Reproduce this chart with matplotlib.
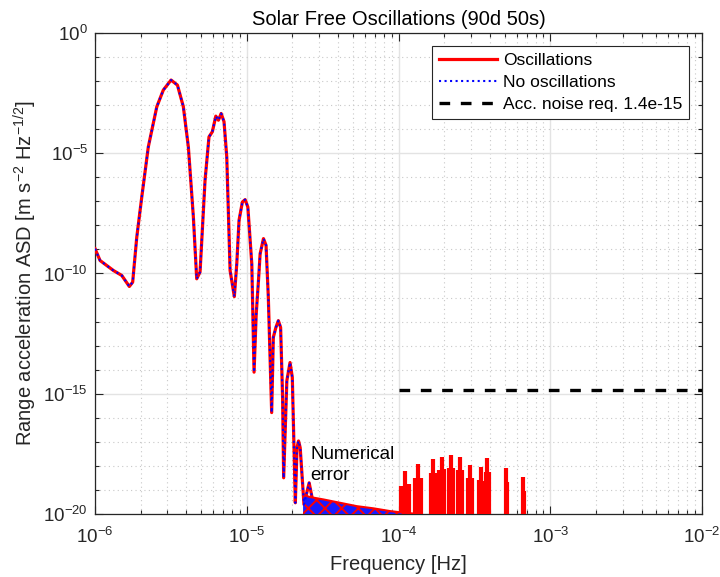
import numpy as np
import matplotlib
matplotlib.use('Agg')
import matplotlib.pyplot as plt
from matplotlib.ticker import FixedLocator, LogLocator, NullFormatter, LogFormatterSciNotation

plt.rcParams['font.family'] = ['Liberation Sans', 'DejaVu Sans']
plt.rcParams['mathtext.default'] = 'regular'
plt.rcParams['hatch.linewidth'] = 1.4

# main spectrum (log10 of frequency and of ASD)
curve_logf = [-6.000, -5.967, -5.879, -5.824, -5.774, -5.752, -5.725, -5.692, -5.649,
              -5.593, -5.550, -5.499, -5.457, -5.418, -5.385, -5.352, -5.330, -5.308,
              -5.275, -5.249, -5.227, -5.204, -5.187, -5.169, -5.150, -5.132, -5.110,
              -5.082, -5.066, -5.051, -5.029, -5.011, -4.993, -4.967, -4.952, -4.938,
              -4.923, -4.912, -4.890, -4.873, -4.858, -4.836, -4.825, -4.808, -4.792,
              -4.777, -4.764, -4.757, -4.736, -4.715, -4.700, -4.680, -4.669, -4.659,
              -4.648, -4.623, -4.589, -4.570]
curve_loga = [-8.97, -9.46, -9.875, -10.08, -10.54, -10.36, -8.49, -6.82, -4.74,
              -3.07, -2.375, -1.96, -2.17, -3.07, -4.74, -7.65, -10.22, -9.94,
              -6.125, -4.32, -4.11, -3.46, -3.63, -3.35, -3.69, -5.15, -9.875,
              -10.96, -9.6, -7.79, -7.03, -6.93, -7.24, -9.6, -14.1, -11.7,
              -10.3, -9.18, -8.55, -8.83, -10.99, -15.78, -12.65, -12.24, -11.96,
              -12.24, -15.15, -18.49, -14.46, -13.7, -14.32, -19.53, -17.24, -16.96,
              -17.24, -19.6, -18.7, -19.3]

# "numerical error" band, upper envelope
band_logf = [-4.629, -4.583, -4.495, -4.385, -4.275, -4.165, -4.055, -3.968, -3.858]
band_loga = [-19.2, -19.29, -19.39, -19.53, -19.67, -19.76, -19.875, -19.94, -20.0]

# oscillation peaks above the floor (red curve only)
spike_logf = [-3.985, -3.956, -3.945, -3.930, -3.891, -3.869, -3.851, -3.787, -3.770,
              -3.754, -3.730, -3.713, -3.699, -3.666, -3.655, -3.642, -3.605, -3.592,
              -3.581, -3.543, -3.530, -3.519, -3.467, -3.455, -3.444, -3.422, -3.416,
              -3.405, -3.291, -3.284, -3.181, -3.174]
spike_loga = [-18.83, -18.21, -19.32, -18.76, -18.51, -17.93, -18.49, -18.28, -17.72,
              -18.28, -18.18, -17.625, -18.14, -18.07, -17.54, -18.10, -18.17, -17.625,
              -18.18, -18.51, -17.96, -18.51, -18.6, -18.04, -18.63, -18.24, -17.68,
              -18.24, -18.10, -18.65, -18.46, -19.04]

noise_f = [1e-4, 1e-2]
noise_level = 1.4e-15
floor_level = 1e-22

fig = plt.figure(figsize=(7.2, 5.77), dpi=100)
ax = fig.add_axes([0.132, 0.109, 0.843, 0.834])

f = 10.0 ** np.array(curve_logf)
a = 10.0 ** np.array(curve_loga)
bf = 10.0 ** np.array(band_logf)
ba = 10.0 ** np.array(band_loga)

ax.plot(f, a, color='red', lw=2.3, solid_joinstyle='round', label='Oscillations', zorder=3)
ax.vlines(10.0 ** np.array(spike_logf), floor_level, 10.0 ** np.array(spike_loga),
          color='red', lw=3.0, zorder=3)
ax.fill_between(bf, floor_level, ba, facecolor='#1a1aff', edgecolor='red', hatch='xx',
                lw=0, zorder=3)
ax.plot(bf, ba, color='red', lw=1.5, zorder=3)
ax.plot(f, a, color='blue', ls=':', lw=1.5, label='No oscillations', zorder=4)
ax.plot(noise_f, [noise_level, noise_level], color='black', ls='--', lw=2.4,
        dashes=(3.2, 3.2), label='Acc. noise req. 1.4e-15', zorder=4)

ax.set_xscale('log')
ax.set_yscale('log')
ax.set_xlim(1e-6, 1e-2)
ax.set_ylim(1e-20, 1)

ax.xaxis.set_major_locator(LogLocator(base=10, numticks=10))
ax.xaxis.set_minor_locator(LogLocator(base=10, subs=np.arange(2, 10), numticks=10))
ax.xaxis.set_minor_formatter(NullFormatter())
ax.yaxis.set_major_locator(FixedLocator(10.0 ** np.arange(-20, 1, 5)))
ax.yaxis.set_major_formatter(LogFormatterSciNotation())
ax.yaxis.set_minor_locator(FixedLocator(10.0 ** np.arange(-20, 1, 1)))
ax.yaxis.set_minor_formatter(NullFormatter())

dark = '#262626'
ax.grid(True, which='major', color='#e3e3e3', lw=1.0, ls='-')
ax.grid(True, which='minor', color='#c8c8c8', lw=0.8, ls=(0, (1, 3)))
ax.set_axisbelow(True)
ax.tick_params(which='both', direction='in', top=True, right=True, colors=dark,
               labelsize=13.5)
ax.tick_params(which='major', length=6, width=0.8)
ax.tick_params(which='minor', length=3, width=0.8)
ax.tick_params(axis='x', pad=9)
ax.tick_params(axis='y', pad=5)
for sp in ax.spines.values():
    sp.set_color(dark)
    sp.set_linewidth(0.9)

ax.text(10 ** -4.58, 10 ** -17.96, 'Numerical\nerror', fontsize=13.5, color='black',
        ha='left', va='center', linespacing=1.25)

ax.set_title('Solar Free Oscillations (90d 50s)', fontsize=14.5, color='black', pad=6)
ax.set_xlabel('Frequency [Hz]', fontsize=14.5, color=dark, labelpad=6)
ax.set_ylabel('Range acceleration ASD [m s$^{-2}$ Hz$^{-1/2}$]', fontsize=14.5,
              color=dark, labelpad=3)

leg = ax.legend(loc='upper right', fontsize=12.5, fancybox=False, framealpha=1,
                edgecolor=dark, handlelength=3.3, borderaxespad=0.75,
                labelspacing=0.4, handletextpad=0.35, borderpad=0.4)
leg.get_frame().set_linewidth(0.8)

fig.savefig('out.png', dpi=100)
